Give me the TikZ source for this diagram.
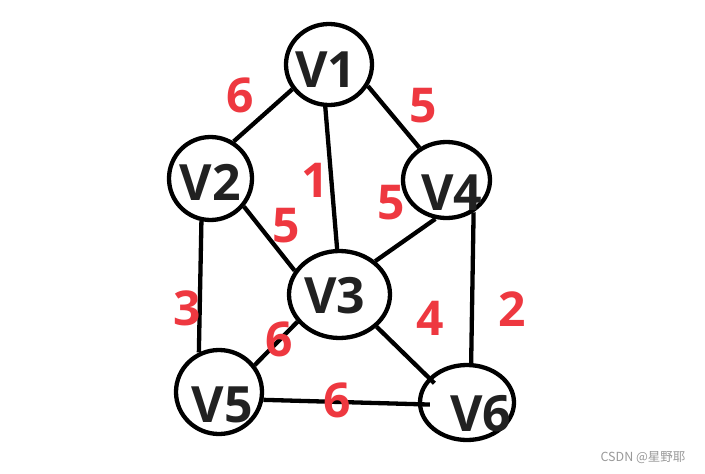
\documentclass[tikz,border=0pt]{standalone}
\usepackage{fontspec}
\setmainfont{Open Sans}
\newfontfamily\cjkfont{Noto Sans CJK SC}
\usetikzlibrary{shapes.geometric}
\definecolor{WeightRed}{RGB}{238,56,64}
\definecolor{NameGray}{RGB}{33,33,33}

\begin{document}
\begin{tikzpicture}[x=1pt, y=-1pt]
    \tikzset{
        vert/.style={ellipse, draw=black, line width=4.3pt, inner sep=0pt},
        vname/.style={font=\fontsize{50}{50}\selectfont\bfseries,
            text=NameGray, inner sep=0pt},
        weight/.style={font=\fontsize{48}{48}\selectfont\bfseries,
            text=WeightRed, inner sep=0pt},
        edge/.style={line width=4.3pt}
    }
    \fill[white] (0,0) rectangle (705,474);
    \useasboundingbox (0,0) rectangle (705,474);
    % vertices
    \node[vert, minimum width=86pt, minimum height=81pt] (v1) at (329,64.5) {};
    \node[vert, minimum width=83pt, minimum height=83pt] (v2) at (210.5,178.5) {};
    \node[vert, minimum width=101pt, minimum height=87pt] (v3) at (339.5,294.5) {};
    \node[vert, minimum width=87pt, minimum height=76pt] (v4) at (446.5,180) {};
    \node[vert, minimum width=86pt, minimum height=84pt] (v5) at (219,392) {};
    \node[vert, minimum width=94pt, minimum height=75pt] (v6) at (467,402.5) {};
    \node[vname] (n1) at (326,69.5) {V1};
    \node[vname] (n2) at (210.5,182.5) {V2};
    \node[vname] (n3) at (335,296) {V3};
    \node[vname] (n4) at (452,193) {V4};
    \node[vname] (n5) at (222.5,404.5) {V5};
    \node[vname] (n6) at (481,414) {V6};
    % edges
    \draw[edge] (v1.214) -- (v2.58);
    \draw[edge] (v1.265) -- (v3.93);
    \draw[edge] (v1.331) -- (v4.130);
    \draw[edge] (v2.320) -- (v3.152);
    \draw[edge] (v4.254) -- (v3.43);
    \draw[edge] (v2.258) -- (v5.117);
    \draw[edge] (v4.310) -- (v6.84);
    \draw[edge, shorten >=-8pt] (v3.319) -- (v6.147);
    \draw[edge] (v3.213) -- (v5.37);
    \draw[edge, shorten >=-12pt] (v5.350) -- (v6.182);
    % weights
    \node[weight] (w12) at (240,95) {6};
    \node[weight] (w14) at (423,106) {5};
    \node[weight] (w13) at (315,180) {1};
    \node[weight] (w43) at (391,203) {5};
    \node[weight] (w23) at (286,226) {5};
    \node[weight] (w25) at (187,308) {3};
    \node[weight] (w46) at (512,309) {2};
    \node[weight] (w36) at (430,318) {4};
    \node[weight] (w35) at (279,339) {6};
    \node[weight] (w56) at (337,400) {6};
    \node[font=\cjkfont\fontsize{12.5}{12.5}\selectfont, text=black!40] (mark)
        at (643,458) {CSDN @星野耶};
\end{tikzpicture}
\end{document}
